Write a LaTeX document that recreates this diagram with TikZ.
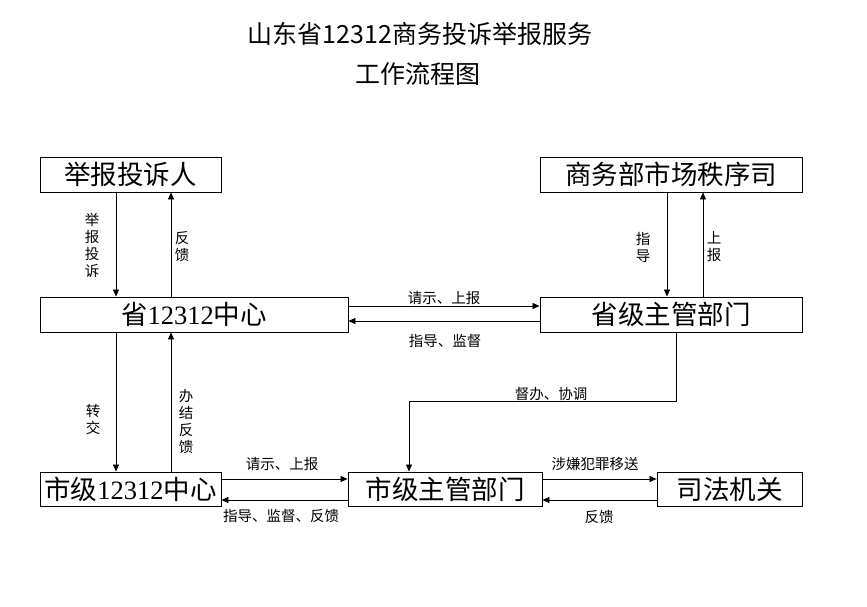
\documentclass[tikz,border=0pt]{standalone}
\usepackage{fontspec}
\setmainfont{Noto Sans CJK SC}
\newfontfamily\digitfont{Liberation Serif}
\usetikzlibrary{arrows.meta}
\begin{document}
\begin{tikzpicture}[x=1pt,y=-1pt,
  boxnode/.style={draw,line width=0.9pt,inner sep=0pt,font=\fontsize{26.5}{26.5}\selectfont},
  arr/.style={line width=0.7pt,-{Triangle[length=7pt,width=6pt]}},
  lbl/.style={inner sep=0pt,font=\fontsize{14.5}{17}\selectfont,align=center},
  ttl/.style={inner sep=0pt,font=\fontsize{25}{25}\selectfont},
]
\useasboundingbox[fill=white] (0,0) rectangle (867,606);
% title
\node[ttl] (t1) at (420,34) {山东省12312商务投诉举报服务};
\node[ttl] (t2) at (418,74) {工作流程图};
% boxes
\node[boxnode,minimum width=181pt,minimum height=35pt] (n1) at (130.5,174.5) {举报投诉人};
\node[boxnode,minimum width=308pt,minimum height=35pt] (n2) at (194,314.5) {省{\digitfont 12312}中心};
\node[boxnode,minimum width=262pt,minimum height=35pt] (n3) at (671,174.5) {商务部市场秩序司};
\node[boxnode,minimum width=262pt,minimum height=35pt] (n4) at (671,314.5) {省级主管部门};
\node[boxnode,minimum width=181pt,minimum height=34pt] (n5) at (130.5,489) {市级{\digitfont 12312}中心};
\node[boxnode,minimum width=194pt,minimum height=34pt] (n6) at (445,489) {市级主管部门};
\node[boxnode,minimum width=145pt,minimum height=34pt] (n7) at (729.5,489) {司法机关};
% helper coordinates
\coordinate (xa) at (116,0);
\coordinate (xb) at (171,0);
\coordinate (xc) at (667,0);
\coordinate (xd) at (703,0);
\coordinate (xe) at (676,0);
\coordinate (ya) at (0,306);
\coordinate (yb) at (0,321);
\coordinate (yc) at (0,479);
\coordinate (yd) at (0,500);
\coordinate (k) at (409,401);
% connectors
\draw[arr] (n1.south -| xa) -- (n2.north -| xa);
\draw[arr] (n2.north -| xb) -- (n1.south -| xb);
\draw[arr] (n3.south -| xc) -- (n4.north -| xc);
\draw[arr] (n4.north -| xd) -- (n3.south -| xd);
\draw[arr] (n2.east |- ya) -- (n4.west |- ya);
\draw[arr] (n4.west |- yb) -- (n2.east |- yb);
\draw[arr] (n2.south -| xa) -- (n5.north -| xa);
\draw[arr] (n5.north -| xb) -- (n2.south -| xb);
\draw[arr] (n5.east |- yc) -- (n6.west |- yc);
\draw[arr] (n6.west |- yd) -- (n5.east |- yd);
\draw[arr] (n6.east |- yc) -- (n7.west |- yc);
\draw[arr] (n7.west |- yd) -- (n6.east |- yd);
\draw[arr] (n4.south -| xe) |- (k) -- (n6.north -| k);
% labels
\node[lbl] (l1) at (92,245) {举\\报\\投\\诉};
\node[lbl] (l2) at (182,247) {反\\馈};
\node[lbl] (l3) at (643,247) {指\\导};
\node[lbl] (l4) at (714,247) {上\\报};
\node[lbl] (l5) at (444,298) {请示、上报};
\node[lbl] (l6) at (445,341) {指导、监督};
\node[lbl] (l7) at (93,419) {转\\交};
\node[lbl] (l8) at (186,422) {办\\结\\反\\馈};
\node[lbl] (l9) at (282,464) {请示、上报};
\node[lbl] (l10) at (281,516) {指导、监督、反馈};
\node[lbl] (l11) at (551,394) {督办、协调};
\node[lbl] (l12) at (595,464) {涉嫌犯罪移送};
\node[lbl] (l13) at (599,517) {反馈};
\end{tikzpicture}
\end{document}
